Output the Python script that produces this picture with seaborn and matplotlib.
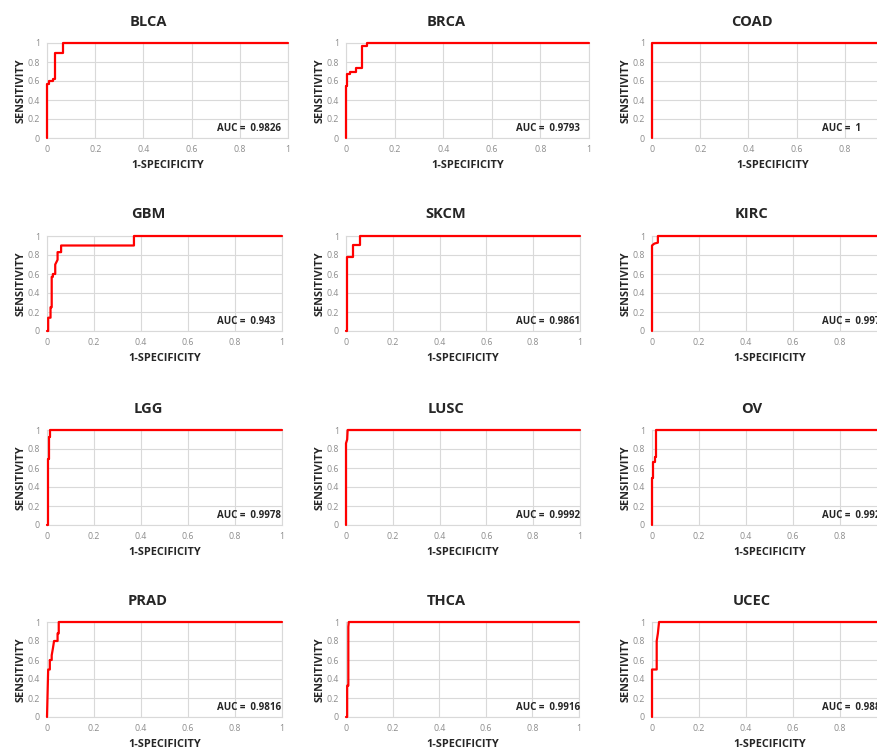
import numpy as np
import pandas as pd
import seaborn as sns
import matplotlib.pyplot as plt

# cancer types, AUC values and ROC points
cancers = ['BLCA', 'BRCA', 'COAD', 'GBM', 'SKCM', 'KIRC',
           'LGG', 'LUSC', 'OV', 'PRAD', 'THCA', 'UCEC']
auc = ['0.9826', '0.9793', '1', '0.943', '0.9861', '0.9976',
       '0.9978', '0.9992', '0.9927', '0.9816', '0.9916', '0.9887']

fpr_blca = [0, 0, 0.01, 0.01, 0.025, 0.025, 0.032, 0.032, 0.065, 0.065, 1]
tpr_blca = [0, 0.57, 0.57, 0.60, 0.60, 0.62, 0.62, 0.90, 0.90, 1, 1]
fpr_brca = [0, 0, 0.005, 0.005, 0.015, 0.015, 0.04, 0.04, 0.065, 0.065, 0.085, 0.085, 1]
tpr_brca = [0, 0.55, 0.55, 0.67, 0.67, 0.69, 0.69, 0.74, 0.74, 0.97, 0.97, 1, 1]
fpr_coad = [0, 0, 1]
tpr_coad = [0, 1, 1]
fpr_gbm = [0, 0.005, 0.005, 0.015, 0.015, 0.02, 0.02, 0.025, 0.025, 0.035, 0.035, 0.045,
           0.045, 0.06, 0.06, 0.37, 0.37, 1]
tpr_gbm = [0, 0, 0.14, 0.14, 0.25, 0.25, 0.57, 0.57, 0.60, 0.60, 0.70, 0.75,
           0.83, 0.83, 0.90, 0.90, 1, 1]
fpr_skcm = [0, 0.005, 0.005, 0.03, 0.03, 0.06, 0.06, 1]
tpr_skcm = [0, 0, 0.78, 0.78, 0.91, 0.91, 1, 1]
fpr_kirc = [0, 0, 0.01, 0.025, 0.025, 1]
tpr_kirc = [0, 0.90, 0.92, 0.93, 1, 1]
fpr_lgg = [0, 0.005, 0.005, 0.007, 0.007, 0.012, 0.012, 1]
tpr_lgg = [0, 0, 0.70, 0.70, 0.93, 0.93, 1, 1]
fpr_lusc = [0, 0, 0.005, 0.007, 1]
tpr_lusc = [0, 0.86, 0.90, 1, 1]
fpr_ov = [0, 0, 0.005, 0.005, 0.012, 0.012, 0.017, 0.017, 1]
tpr_ov = [0, 0.50, 0.50, 0.66, 0.66, 0.72, 0.72, 1, 1]
fpr_prad = [0, 0.005, 0.012, 0.012, 0.02, 0.02, 0.025, 0.03, 0.045, 0.045, 0.05, 0.05, 1]
tpr_prad = [0, 0.50, 0.50, 0.60, 0.60, 0.65, 0.72, 0.80, 0.80, 0.88, 0.88, 1, 1]
fpr_thca = [0, 0.005, 0.005, 0.01, 0.01, 0.012, 1]
tpr_thca = [0, 0, 0.33, 0.33, 0.95, 1, 1]
fpr_ucec = [0, 0, 0.02, 0.02, 0.025, 0.03, 1]
tpr_ucec = [0, 0.50, 0.50, 0.80, 0.88, 1, 1]

fprs = [fpr_blca, fpr_brca, fpr_coad, fpr_gbm, fpr_skcm, fpr_kirc,
        fpr_lgg, fpr_lusc, fpr_ov, fpr_prad, fpr_thca, fpr_ucec]
tprs = [tpr_blca, tpr_brca, tpr_coad, tpr_gbm, tpr_skcm, tpr_kirc,
        tpr_lgg, tpr_lusc, tpr_ov, tpr_prad, tpr_thca, tpr_ucec]

ticks = [0, 0.2, 0.4, 0.6, 0.8, 1]
tick_labels = ['0', '0.2', '0.4', '0.6', '0.8', '1']

sns.set_style('white')
plt.rcParams['font.family'] = ['Open Sans', 'DejaVu Sans']

W, H = 878, 751
fig = plt.figure(figsize=(W / 100, H / 100), dpi=100)

# layout in pixels (each panel was a separate chart)
col_left = [47, 346, 652]
col_width = [[241, 243, 241], [235, 234, 235], [235, 234, 235], [235, 233, 235]]
row_top = [43, 236, 430, 622]
panel_h = 95
title_x = [148, 446, 752]
title_y = [22, 214, 409, 601]
grid_col = '#d9d9d9'
text_col = '#262626'

for i, name in enumerate(cancers):
    r, c = divmod(i, 3)
    left, w, top = col_left[c], col_width[r][c], row_top[r]
    ax = fig.add_axes([left / W, 1 - (top + panel_h) / H, w / W, panel_h / H])
    df = pd.DataFrame({'fpr': fprs[i], 'tpr': tprs[i]})
    sns.lineplot(data=df, x='fpr', y='tpr', ax=ax, sort=False, estimator=None,
                 color='#ff0000', linewidth=1.6)
    for ln in ax.lines:
        ln.set_clip_on(False)
        ln.set_zorder(5)
    ax.set_xlim(0, 1)
    ax.set_ylim(0, 1)
    ax.set_xticks(ticks)
    ax.set_yticks(ticks)
    ax.set_xticklabels(tick_labels)
    ax.set_yticklabels(tick_labels)
    ax.tick_params(length=0, labelsize=6.3, labelcolor='#8c8c8c', pad=5)
    ax.grid(True, color=grid_col, linewidth=0.8)
    ax.set_axisbelow(True)
    for sp in ax.spines.values():
        sp.set_color(grid_col)
        sp.set_linewidth(0.8)
    ax.set_xlabel('1-SPECIFICITY', fontsize=7.8, fontweight='bold', color=text_col)
    ax.set_ylabel('SENSITIVITY', fontsize=7.8, fontweight='bold', color=text_col)
    ax.xaxis.set_label_coords(0.5, -22 / panel_h)
    ax.yaxis.set_label_coords(-20 / w, 0.5)
    ax.text(170 / w, 0.1, f'AUC =  {auc[i]}', transform=ax.transAxes, ha='left', va='center',
            fontsize=7, fontweight='bold', color=text_col, zorder=6)
    fig.text(title_x[c] / W, 1 - title_y[r] / H, name, ha='center', va='center',
             fontsize=10.5, fontweight='bold', color=text_col)

fig.savefig('out.png', dpi=100, facecolor='white')
